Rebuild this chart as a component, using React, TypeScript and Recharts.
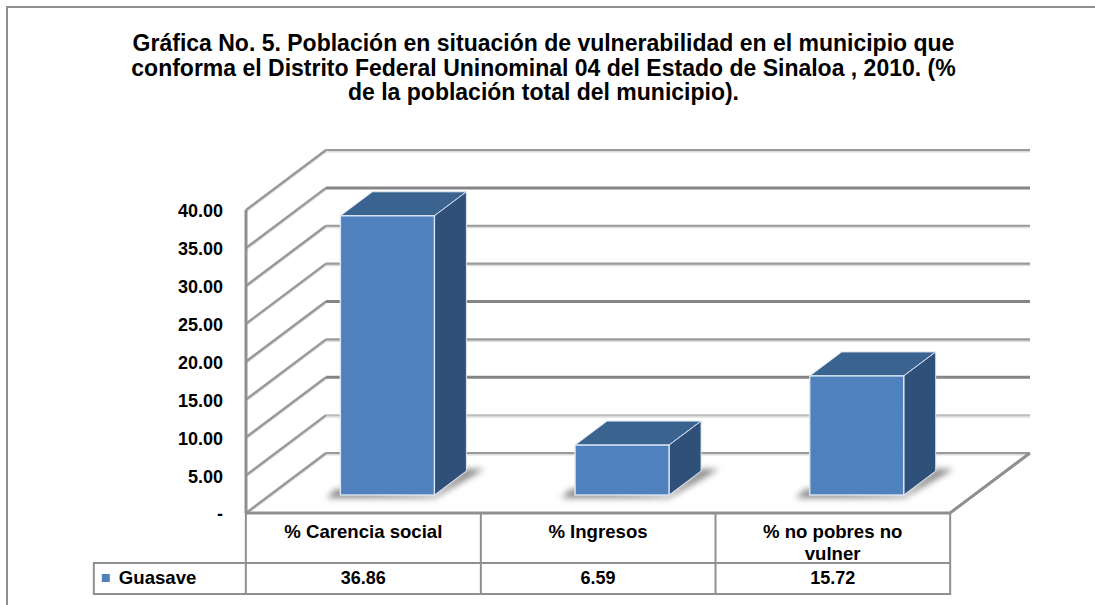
import { BarChart, Bar, XAxis, YAxis, CartesianGrid } from "recharts"

// Values
const categories = ["% Carencia social", "% Ingresos", "% no pobres no vulner"]
const guasave = [36.86, 6.59, 15.72]
const yTicks = [0, 5, 10, 15, 20, 25, 30, 35, 40]
const titleLines = [
  "Gráfica No. 5. Población en situación de vulnerabilidad en el municipio que",
  "conforma el Distrito Federal Uninominal 04 del Estado de Sinaloa , 2010. (%",
  "de la población total del municipio).",
]
const categoryLines = [["% Carencia social"], ["% Ingresos"], ["% no pobres no", "vulner"]]
const seriesName = "Guasave"

const data = categories.map((name, i) => ({ name, guasave: guasave[i] }))

const FONT = "'Liberation Sans', Arial, sans-serif"
const GRID = "#8f8f8f"
// depth of the fake 3D walls and of the boxes
const WALL_DX = 80
const WALL_DY = 60
const BOX_DX = 32
const BOX_DY = 24
// boxes stand a little way back on the floor
const FLOOR_DX = 24
const FLOOR_DY = 18
const PLOT_TOP = 210
const PLOT_BOTTOM = 513

// the source image was resampled, so some back wall lines came out heavier than others
const heavyLines = [10, 20, 35]
const faintLines = [5]

const WallLine = (props: any) => {
  const { x1, x2, y1 } = props
  const backY = y1 - WALL_DY
  const side = `M${x1},${y1} L${x1 + WALL_DX},${backY}`
  const back = `M${x1 + WALL_DX},${backY} L${x2 + WALL_DX},${backY}`
  const value = Math.round(((PLOT_BOTTOM - y1) / (PLOT_BOTTOM - PLOT_TOP)) * 40)
  const heavy = heavyLines.includes(value)
  const faint = faintLines.includes(value)
  return (
    <g fill="none">
      <path d={side} stroke="#dcdcdc" strokeWidth={2} transform="translate(0,1.5)" />
      <path d={side} stroke="#989898" strokeWidth={2.4} />
      {!heavy && <path d={back} stroke="#dcdcdc" strokeWidth={2} transform="translate(0,1.5)" />}
      <path
        d={back}
        stroke={heavy ? "#858585" : faint ? "#bcbcbc" : "#9a9a9a"}
        strokeWidth={heavy ? 3 : faint ? 1.6 : 2.2}
      />
      {value === 0 && (
        <path
          d={`M${x1},${y1} L${x2},${y1} L${x2 + WALL_DX},${backY}`}
          stroke={GRID}
          strokeWidth={3}
        />
      )}
    </g>
  )
}

const Box = (props: any) => {
  const { x, y, width, height, index } = props
  const l = x + FLOOR_DX
  const r = l + width
  const t = y - FLOOR_DY
  const b = t + height
  const edge = "#dce6f2"
  return (
    <g>
      <defs>
        <filter id={`floorShadow${index}`} x="-30%" y="-60%" width="160%" height="220%">
          <feGaussianBlur stdDeviation="3" />
        </filter>
      </defs>
      <path
        d={`M${l - 14},${b + 3} L${r},${b + 3} L${r + BOX_DX + 18},${b - BOX_DY - 2} L${r + BOX_DX},${b - BOX_DY - 2} L${r},${b} L${l - 4},${b - 6} Z`}
        fill="#888"
        filter={`url(#floorShadow${index})`}
      />
      <path
        d={`M${l},${t} L${l + BOX_DX},${t - BOX_DY} L${r + BOX_DX},${t - BOX_DY} L${r},${t} Z`}
        fill="#3b6390"
        stroke={edge}
        strokeWidth={1}
      />
      <path
        d={`M${r},${t} L${r + BOX_DX},${t - BOX_DY} L${r + BOX_DX},${b - BOX_DY} L${r},${b} Z`}
        fill="#2f5078"
        stroke={edge}
        strokeWidth={1}
      />
      <rect x={l} y={t} width={width} height={height} fill="#4f81bd" stroke={edge} strokeWidth={1.4} />
    </g>
  )
}

// category label plus the data table cells under it
const TableTick = (props: any) => {
  const { x, y, index, payload } = props
  const band = 235
  const left = x - band / 2
  const rowTop = y
  const rowMid = y + 50
  const rowEnd = y + 81
  const lines = categoryLines[index] || [payload.value]
  const textStyle = { fontFamily: FONT, fontWeight: 700, fill: "#000" }
  return (
    <g>
      {index === 0 && (
        <g>
          <path
            d={`M${left},${rowTop} V${rowEnd} H${left - 152} V${rowMid} H${left}`}
            fill="none"
            stroke={GRID}
            strokeWidth={2}
          />
          <rect x={left - 144} y={rowMid + 11} width={8} height={8} fill="#4f81bd" />
          <text x={left - 127} y={rowMid + 21} fontSize={18.6} {...textStyle}>
            {seriesName}
          </text>
        </g>
      )}
      <path
        d={`M${left + band},${rowTop} V${rowEnd} H${left} M${left},${rowMid} H${left + band}`}
        fill="none"
        stroke={GRID}
        strokeWidth={2}
      />
      {lines.map((line: string, i: number) => (
        <text key={line} x={x} y={y + 25 + i * 22} textAnchor="middle" fontSize={18.6} {...textStyle}>
          {line}
        </text>
      ))}
      <text x={x} y={rowMid + 21} textAnchor="middle" fontSize={18} {...textStyle}>
        {guasave[index].toFixed(2)}
      </text>
    </g>
  )
}

export default function App() {
  return (
    <div style={{ position: "absolute", left: 0, top: 0, width: 1095, height: 605, background: "#fff", overflow: "hidden" }}>
      {/* frame runs off the right and bottom of the picture */}
      <div
        style={{
          position: "absolute",
          left: 6,
          top: 6,
          width: 1200,
          height: 700,
          border: "2px solid #8f8f8f",
        }}
      />
      <div
        style={{
          position: "absolute",
          left: 0,
          top: 31,
          width: 1087,
          textAlign: "center",
          fontFamily: FONT,
          fontSize: 23,
          fontWeight: 700,
          lineHeight: "24.5px",
          color: "#000",
        }}
      >
        {titleLines.map((line) => (
          <div key={line}>{line}</div>
        ))}
      </div>
      <div style={{ position: "absolute", left: 0, top: 0 }}>
        <BarChart
          width={1095}
          height={605}
          data={data}
          margin={{ top: PLOT_TOP, right: 145, bottom: 0, left: 0 }}
          barCategoryGap="30%"
        >
          <CartesianGrid vertical={false} horizontal={(p: any) => <WallLine key={p.index} {...p} />} />
          <XAxis
            dataKey="name"
            height={605 - PLOT_BOTTOM}
            axisLine={false}
            tickLine={false}
            tickSize={0}
            tickMargin={0}
            interval={0}
            tick={(p: any) => <TableTick {...p} />}
          />
          <YAxis
            width={246}
            domain={[0, 40]}
            ticks={yTicks}
            axisLine={{ stroke: GRID, strokeWidth: 3 }}
            tickLine={false}
            tickSize={0}
            tickMargin={23}
            tickFormatter={(v: number) => (v === 0 ? "-" : v.toFixed(2))}
            tick={{ fontFamily: FONT, fontSize: 18, fontWeight: 700, fill: "#000", dy: 1 }}
          />
          <Bar dataKey="guasave" name={seriesName} shape={(p: any) => <Box {...p} />} isAnimationActive={false} />
        </BarChart>
      </div>
    </div>
  )
}
